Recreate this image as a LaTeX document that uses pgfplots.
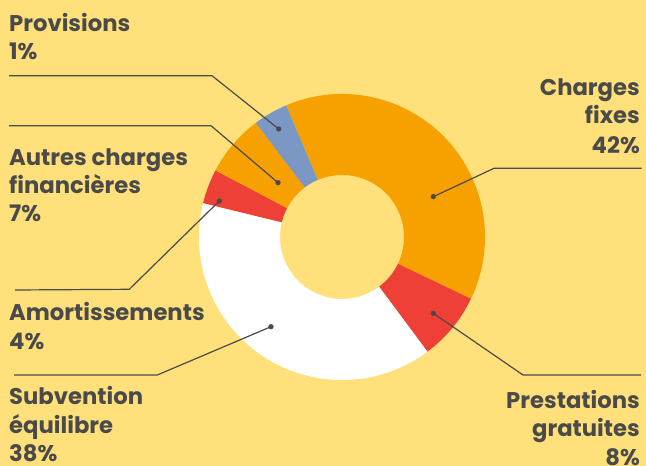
\documentclass[border=0pt]{standalone}
\usepackage{fontspec}
\setmainfont{Poppins}
\usepackage{pgfplots}
\pgfplotsset{compat=1.18}
\definecolor{bg}{HTML}{FFE07A}
\definecolor{orng}{HTML}{F7A100}
\definecolor{rd}{HTML}{EF4037}
\definecolor{bl}{HTML}{7B97C3}
\definecolor{txt}{HTML}{4A4A4A}
% #1 start angle (deg), #2 share in percent, #3 colour
\newcommand\slice[3]{%
  \fill[#3] ([shift={(#1:143bp)}]axis cs:342,229)
    arc[start angle=#1, delta angle={-3.6*#2}, radius=143bp]
    -- ([shift={({#1-3.6*#2}:62bp)}]axis cs:342,229)
    arc[start angle={#1-3.6*#2}, delta angle={3.6*#2}, radius=62bp] -- cycle;}
\newcommand\lab[4]{\node[anchor=base #1, inner sep=0pt, text=txt, font=\fontsize{22.8}{28}\selectfont\bfseries] at (axis cs:#2,#3) {#4};}
\begin{document}
\begin{tikzpicture}
\begin{axis}[scale only axis, width=646bp, height=466bp,
  xmin=0, xmax=646, ymin=0, ymax=466, hide axis, clip=false]
\fill[bg] (axis cs:0,0) rectangle (axis cs:646,466);
% slices: share (percent) as drawn
\slice{113}{38.5}{orng}
\slice{-25.6}{7.7}{rd}
\slice{-53.32}{39.0}{white}
\slice{-193.72}{3.9}{rd}
\slice{-207.76}{7.0}{orng}
\slice{-232.96}{3.9}{bl}
% leader lines
\addplot[txt, line width=1.2bp] coordinates {(9,390.3) (212,390.3) (278.7,337)};
\addplot[txt, line width=1.2bp] coordinates {(9,340.3) (211,340.3) (278,283.3)};
\addplot[txt, line width=1.2bp] coordinates {(15,176) (129.3,176.7) (219.3,265)};
\addplot[txt, line width=1.2bp] coordinates {(14,91) (157.3,91) (271,139.3)};
\addplot[txt, line width=1.2bp] coordinates {(641.7,297.7) (494,297.7) (433.3,269.3)};
\addplot[txt, line width=1.2bp] coordinates {(641,91) (523,91) (433.3,152.7)};
\addplot[only marks, mark=*, mark size=2.4bp, mark options={draw=txt, fill=txt}]
  coordinates {(278.7,337) (278,283.3) (219.3,265) (271,139.3) (433.3,269.3) (433.3,152.7)};
% labels
\lab{west}{9}{434}{Provisions}
\lab{west}{9}{406.5}{1\%}
\lab{west}{9}{300.3}{Autres charges}
\lab{west}{9}{272}{financières}
\lab{west}{9}{244}{7\%}
\lab{west}{9}{145.3}{Amortissements}
\lab{west}{9}{116.7}{4\%}
\lab{west}{9}{61}{Subvention}
\lab{west}{9}{32.7}{équilibre}
\lab{west}{9}{5}{38\%}
\lab{east}{640}{370}{Charges}
\lab{east}{640}{342}{fixes}
\lab{east}{640}{312.7}{42\%}
\lab{east}{640}{57.7}{Prestations}
\lab{east}{640}{29.3}{gratuites}
\lab{east}{640}{1}{8\%}
\end{axis}
\pgfresetboundingbox
\path (current axis.south west) rectangle (current axis.north east);
\end{tikzpicture}
\end{document}
